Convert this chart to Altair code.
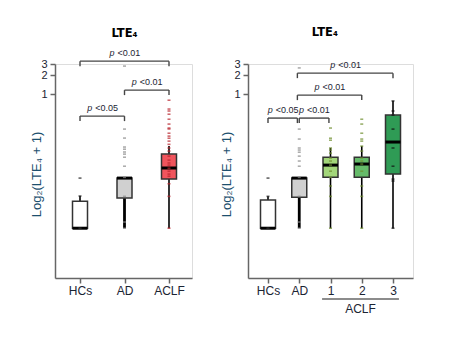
import altair as alt
import pandas as pd

# ---------------- data ----------------
Y_DOMAIN = [0.00122, 3]

# Left panel
a_groups = ["HCs", "AD", "ACLF"]
a_lo = [0.0075, 0.0075, 0.0075]
a_q1 = [0.0075, 0.0225, 0.045]
a_med = [0.0075, 0.0467, 0.0675]
a_q3 = [0.0201, 0.0467, 0.112]
a_hi = [0.0243, 0.0467, 0.150]
a_pts = {
    "HCs": [0.0467, 0.0243, 0.0075, 0.0075],
    "AD": [2.78, 0.279, 0.201, 0.145, 0.134, 0.121, 0.112, 0.100, 0.072,
           0.048, 0.024, 0.0094, 0.0075],
    "ACLF": [0.80, 0.58, 0.54, 0.48, 0.40, 0.335, 0.29, 0.28, 0.24, 0.216,
             0.20, 0.18, 0.16, 0.14, 0.125, 0.104, 0.09, 0.081, 0.075, 0.067,
             0.06, 0.054, 0.05, 0.038, 0.024, 0.0075],
}
a_br_from = [0, 1, 0]
a_br_to = [1, 2, 2]
a_br_y = [0.448, 1.157, 3.33]
a_br_lab = ["<0.05", "<0.01", "<0.01"]
a_title = "LTE₄"
a_title_pos = [1.0, 8.0]

# Right panel
b_groups = ["HCs", "AD", "1", "2", "3"]
b_lo = [0.0075, 0.0075, 0.0075, 0.0075, 0.0075]
b_q1 = [0.0075, 0.0233, 0.048, 0.048, 0.054]
b_med = [0.0075, 0.0467, 0.075, 0.078, 0.174]
b_q3 = [0.021, 0.0467, 0.100, 0.100, 0.465]
b_hi = [0.024, 0.0467, 0.14, 0.15, 0.78]
b_pts = {
    "HCs": [0.0467, 0.024, 0.0075, 0.0075],
    "AD": [2.6, 0.279, 0.194, 0.14, 0.13, 0.12, 0.104, 0.087, 0.072, 0.048,
           0.024, 0.0094, 0.0075],
    "1": [0.29, 0.2, 0.186, 0.14, 0.13, 0.116, 0.097, 0.087, 0.075, 0.06,
          0.048, 0.035, 0.024, 0.0075],
    "2": [0.40, 0.335, 0.24, 0.194, 0.18, 0.15, 0.125, 0.097, 0.087, 0.078,
          0.06, 0.035, 0.024, 0.0075],
    "3": [0.78, 0.54, 0.465, 0.279, 0.14, 0.072, 0.045, 0.042, 0.0075],
}
b_br_from = [0, 1.0, 0.94, 0.94]
b_br_to = [0.94, 1.95, 3, 4]
b_br_y = [0.417, 0.417, 0.964, 2.15]
b_br_lab = ["<0.05", "<0.01", "<0.01", "<0.01"]
b_title = "LTE₄"
b_title_pos = [1.82, 8.3]
b_group_span = [1.73, 4.19]
b_group_label = "ACLF"

# ---------------- styles ----------------
FONT = "Liberation Sans"
a_fill = ["#ffffff", "#d0d0d0", "#f0545c"]
a_ptcol = ["#222222", "#8a8a8a", "#b8232c"]
a_wwidth = [1.6, 2.8, 1.6]
b_fill = ["#ffffff", "#d0d0d0", "#a3d67a", "#66bb6a", "#2f9b55"]
b_ptcol = ["#222222", "#8a8a8a", "#6f8f2f", "#6f8f2f", "#111111"]
b_wwidth = [1.6, 2.8, 1.6, 1.6, 1.6]
TEXT = "#1b2433"
YTITLE = "#1d4f6e"
AXIS = "#666666"


def panel(groups, lo, q1, med, q3, hi, pts, fills, ptcols, wwidth, bf, bt,
          by, bl, title, title_pos, width, xdom, ytitle_x, span=None):
    n = len(groups)
    box = pd.DataFrame({"x": list(range(n)), "lo": lo, "q1": q1, "med": med,
                        "q3": q3, "hi": hi, "fill": fills, "ww": wwidth})
    rows = []
    for i, g in enumerate(groups):
        for v in pts[g]:
            rows.append({"x": i, "y": v, "col": ptcols[i]})
    pdf = pd.DataFrame(rows)
    br = pd.DataFrame({"f": bf, "t": bt, "y": by, "lab": bl})
    br["mid"] = (br["f"] + br["t"]) / 2
    tdf = pd.DataFrame({"x": [title_pos[0]], "y": [title_pos[1]],
                        "t": [title]})

    label_expr = "[" + ",".join("'%s'" % g for g in groups) + "][datum.value]"
    xsc = alt.Scale(domain=xdom, nice=False, zero=False)
    xax = alt.Axis(values=list(range(n)), labelExpr=label_expr, title=None,
                   grid=False, domainColor=AXIS, domainWidth=1.5,
                   tickColor=AXIS, tickWidth=1.5, tickSize=5,
                   labelFontSize=12, labelColor=TEXT, labelFont=FONT,
                   labelPadding=2)
    ysc = alt.Scale(type="log", domain=Y_DOMAIN, nice=False)
    yax = alt.Axis(values=[1, 2, 3], format="~g", title="Log₂(LTE₄ + 1)",
                   grid=False, domainColor=AXIS, domainWidth=1.5,
                   tickColor=AXIS, tickWidth=1.5, tickSize=5,
                   labelFontSize=11, labelColor=TEXT, labelFont=FONT,
                   labelPadding=3, titleFontSize=13, titleFont=FONT,
                   titleFontWeight="normal", titleColor=YTITLE,
                   titleX=ytitle_x, titleY=110, titleBaseline="alphabetic",
                   titleAlign="center", titleAngle=270)

    def X(f):
        return alt.X(f + ":Q", scale=xsc, axis=xax)

    def Y(f):
        return alt.Y(f + ":Q", scale=ysc, axis=yax)

    base = alt.Chart(box)
    whisk_lo = base.mark_rule(color="black").encode(
        x=X("x"), y=Y("lo"), y2="q1",
        strokeWidth=alt.StrokeWidth("ww:Q", scale=None))
    whisk_hi = base.mark_rule(color="black").encode(
        x=X("x"), y=Y("q3"), y2="hi",
        strokeWidth=alt.StrokeWidth("ww:Q", scale=None))
    rect = base.mark_rect(stroke="#333333", strokeWidth=1.5,
                          xOffset=-7.5, x2Offset=7.5).encode(
        x=X("x"), x2="x", y=Y("q1"), y2="q3",
        fill=alt.Fill("fill:N", scale=None))
    medl = base.mark_rule(color="black", strokeWidth=3,
                          xOffset=-7.5, x2Offset=7.5).encode(
        x=X("x"), x2="x", y=Y("med"))
    points = alt.Chart(pdf).mark_tick(orient="horizontal", size=3,
                                      thickness=1.6).encode(
        x=X("x"), y=Y("y"), color=alt.Color("col:N", scale=None))

    bc = alt.Chart(br)
    hline = bc.mark_rule(color="#444444", strokeWidth=1.4).encode(
        x=X("f"), x2="t", y=Y("y"))
    tl = bc.mark_rule(color="#444444", strokeWidth=1.4, y2Offset=5).encode(
        x=X("f"), y=Y("y"), y2="y")
    tr = bc.mark_rule(color="#444444", strokeWidth=1.4, y2Offset=5).encode(
        x=X("t"), y=Y("y"), y2="y")
    pt = bc.mark_text(text="p", fontStyle="italic", fontSize=9, font=FONT,
                      align="right", baseline="alphabetic", dx=-10, dy=-5,
                      color=TEXT).encode(x=X("mid"), y=Y("y"))
    vt = bc.mark_text(fontSize=9, font=FONT, align="left",
                      baseline="alphabetic", dx=-7, dy=-5,
                      color=TEXT).encode(x=X("mid"), y=Y("y"), text="lab:N")
    ttl = alt.Chart(tdf).mark_text(fontSize=11.5, fontWeight="bold",
                                   font="DejaVu Sans", color="black",
                                   baseline="alphabetic").encode(
        x=X("x"), y=Y("y"), text="t:N")

    layers = [whisk_lo, whisk_hi, rect, medl, points, hline, tl, tr, pt, vt,
              ttl]
    if span is not None:
        sp = pd.DataFrame({"f": [span[0]], "t": [span[1]],
                           "m": [(span[0] + span[1]) / 2],
                           "y": [Y_DOMAIN[0]], "lab": [b_group_label]})
        sc = alt.Chart(sp)
        layers.append(sc.mark_rule(color=AXIS, strokeWidth=1.5,
                                   yOffset=21).encode(
            x=X("f"), x2="t", y=Y("y")))
        layers.append(sc.mark_text(fontSize=12, font=FONT, color=TEXT,
                                   baseline="middle", yOffset=31).encode(
            x=X("m"), y=Y("y"), text="lab:N"))

    return alt.layer(*layers).properties(width=width, height=214)


left = panel(a_groups, a_lo, a_q1, a_med, a_q3, a_hi, a_pts, a_fill,
             a_ptcol, a_wwidth, a_br_from, a_br_to, a_br_y, a_br_lab,
             a_title, a_title_pos, 137, [-0.562, 2.517], -14.5)
right = panel(b_groups, b_lo, b_q1, b_med, b_q3, b_hi, b_pts, b_fill,
              b_ptcol, b_wwidth, b_br_from, b_br_to, b_br_y, b_br_lab,
              b_title, b_title_pos, 165, [-0.64, 4.64], -18,
              span=b_group_span)

chart = alt.hconcat(left, right, spacing=26).properties(
    padding={"left": 30, "top": 26, "right": 5, "bottom": 5}
).configure_view(stroke=None).configure(font=FONT)

chart.save("out.html", embed_options={"renderer": "svg", "actions": False})
